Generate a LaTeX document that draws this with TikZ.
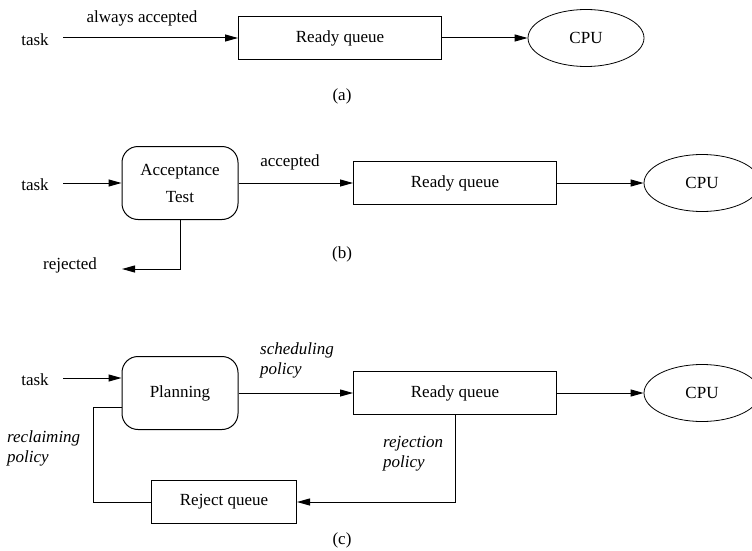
\documentclass[tikz,border=0pt]{standalone}
\usepackage{fontspec}
\setmainfont{Liberation Serif}
\usetikzlibrary{arrows.meta,shapes.geometric}
\begin{document}
\begin{tikzpicture}[x=1pt,y=-1pt,
  every node/.style={font=\fontsize{17}{20}\selectfont, inner sep=0pt},
  queue/.style={draw, line width=1pt, minimum width=203pt, minimum height=43pt},
  rqueue/.style={draw, line width=1pt, minimum width=145pt, minimum height=43pt},
  test/.style={draw, line width=1pt, rounded corners=16pt, minimum width=116pt, minimum height=73pt, align=center},
  cpu/.style={draw, ellipse, line width=0.8pt, minimum width=116pt, minimum height=57pt},
  lbl/.style={font=\fontsize{17}{20}\selectfont\itshape, align=left},
  conn/.style={line width=1pt},
  arr/.style={conn, -{Triangle[length=13pt,width=7pt]}}]
\clip (0,0) rectangle (752,551);
\useasboundingbox (0,0) rectangle (752,551);

% (a)
\node (ta) at (35,40) {task};
\coordinate (ta0) at (63,38);
\node[queue] (rqa) at (340,38) {Ready queue};
\node[cpu] (cpua) at (586,38) {CPU};
\node (aa) at (142,18) {always accepted};
\node (capa) at (342,96) {(a)};
\draw[arr] (ta0) -- (rqa.west);
\draw[arr] (rqa.east) -- (cpua.west);

% (b)
\node (tb) at (35,185) {task};
\coordinate (tb0) at (63,183);
\node[test, font=\fontsize{17}{27}\selectfont] (at) at (180,183) {Acceptance\\Test};
\node[queue] (rqb) at (455,183) {Ready queue};
\node[cpu] (cpub) at (702,183) {CPU};
\node (acc) at (290,162) {accepted};
\node (rej) at (70,265) {rejected};
\coordinate (rejend) at (122,269);
\node (capb) at (342,254) {(b)};
\draw[arr] (tb0) -- (at.west);
\draw[arr] (at.east) -- (rqb.west);
\draw[arr] (rqb.east) -- (cpub.west);
\draw[arr] (at.south) |- (rejend);

% (c)
\node (tc) at (35,380) {task};
\coordinate (tc0) at (63,378);
\node[test] (pl) at (180,393) {Planning};
\node[queue] (rqc) at (455,393) {Ready queue};
\node[cpu] (cpuc) at (702,393) {CPU};
\node[rqueue] (rjq) at (224,502) {Reject queue};
\node[lbl, anchor=north west] (sp) at (260,343) {scheduling\\policy};
\node[lbl, anchor=north west] (rp) at (7,430) {reclaiming\\policy};
\node[lbl, anchor=north west] (jp) at (383,436) {rejection\\policy};
\node (capc) at (342,540) {(c)};
\coordinate (rc1) at (93,407);
\coordinate (rc2) at (122,407);
\draw[arr] (tc0) -- (pl.west |- tc0);
\draw[arr] (pl.east) -- (rqc.west);
\draw[arr] (rqc.east) -- (cpuc.west);
\draw[arr] (rqc.south) |- (rjq.east);
\draw[conn] (rjq.west) -| (rc1) -- (rc2);
\end{tikzpicture}
\end{document}
